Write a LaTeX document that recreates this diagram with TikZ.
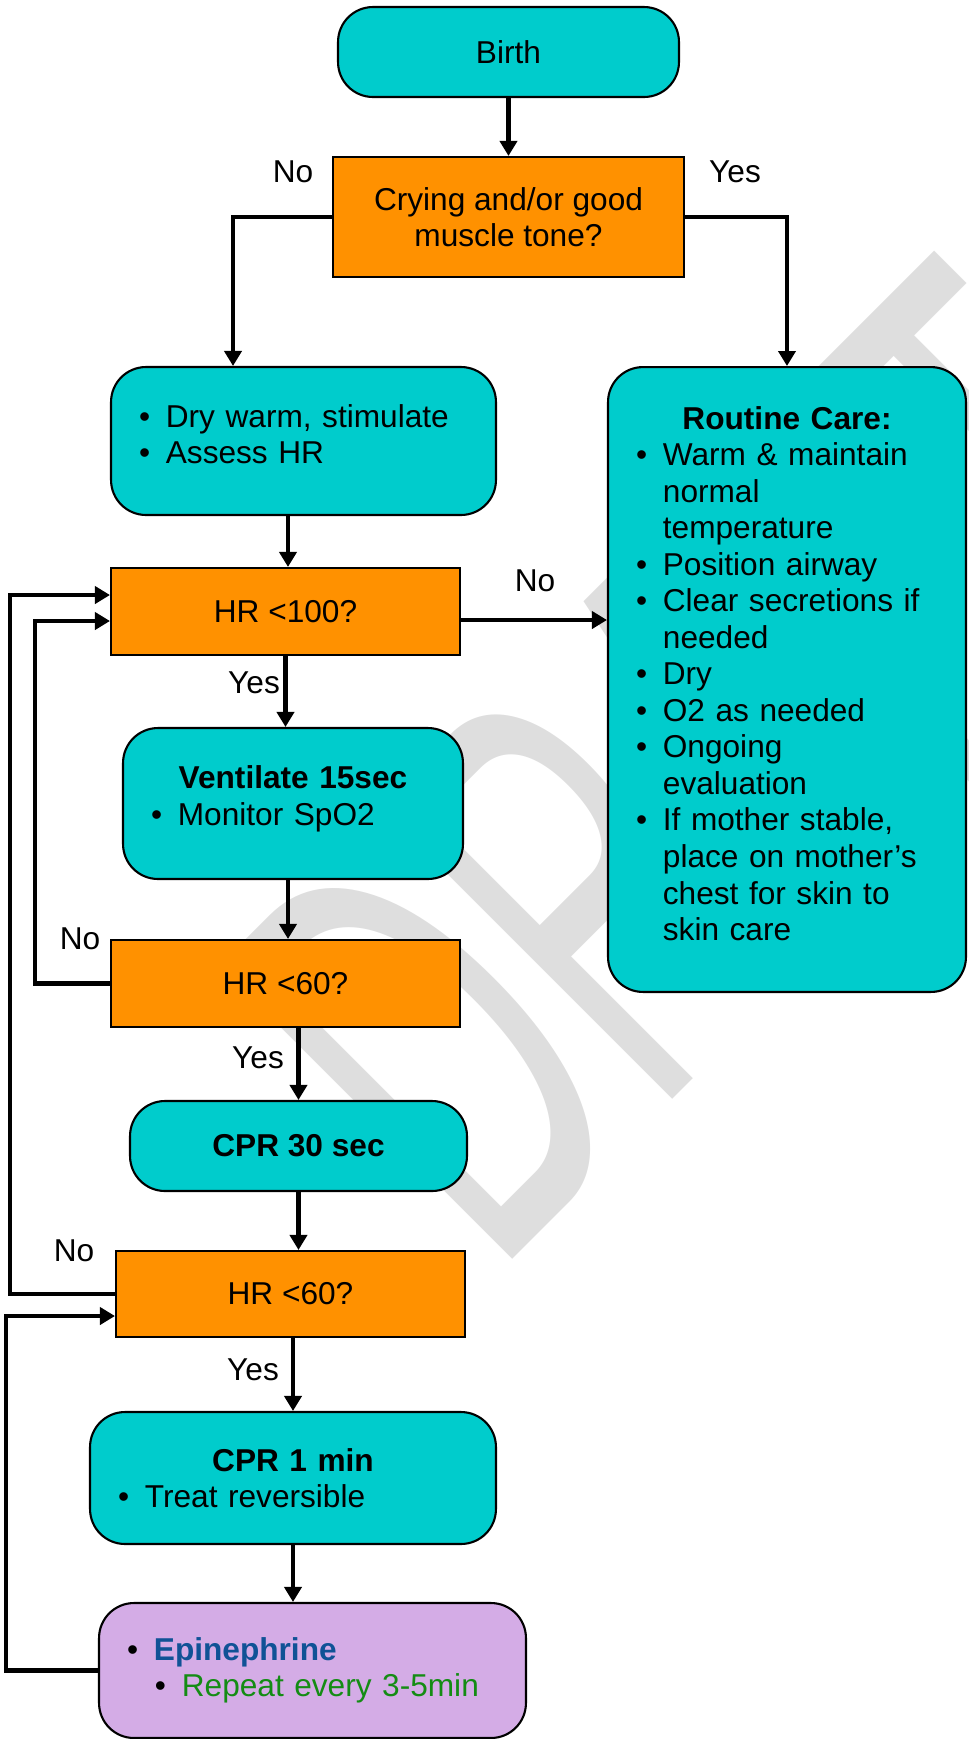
\documentclass[tikz,border=0pt]{standalone}
\usepackage{fontspec}
\setmainfont{Liberation Sans}
\usetikzlibrary{arrows.meta}
\definecolor{tealbox}{RGB}{0,204,204}
\definecolor{orangebox}{RGB}{255,145,0}
\definecolor{lilacbox}{RGB}{212,172,230}
\definecolor{epiblue}{RGB}{16,82,150}
\definecolor{epigreen}{RGB}{20,140,20}
\definecolor{wmgray}{RGB}{222,222,222}
\newcommand{\fsz}{\fontsize{18}{20.8}\selectfont}
\newcommand{\blt}{\makebox[15.3pt][l]{\textbullet}}
\newcommand{\ind}{\hspace*{15.3pt}}

\begin{document}
\begin{tikzpicture}[x=0.02cm, y=-0.02cm,
  actionbox/.style={draw, line width=1.2pt, fill=tealbox, rounded corners=0.7cm, font=\fsz, inner xsep=0.56cm},
  checkbox/.style={draw, line width=1.2pt, fill=orangebox, font=\fsz, align=center, minimum width=6.98cm, minimum height=1.74cm},
  flowline/.style={line width=2.6pt, -{Triangle[length=0.3cm,width=0.34cm]}},
  answer/.style={font=\fsz, inner sep=0pt}]
  \useasboundingbox (0,0) rectangle (968,1739);
  % marca d'agua
  \node[anchor=base west, inner sep=0pt, rotate=45, xscale=0.52, text=wmgray,
        font=\fontsize{343}{343}\selectfont] (draft) at (494,1278) {DRAFT};
  % caixas
  \node[actionbox, minimum width=6.82cm, minimum height=1.8cm] (birth) at (508.5,52) {Birth};
  \node[checkbox, minimum width=7.02cm, minimum height=2.4cm] (cry) at (508.5,217) {Crying and/or good\\muscle tone?};
  \node[actionbox, minimum width=7.7cm, minimum height=2.96cm, text width=6.58cm, align=left] (dry) at (303.5,441)
    {\blt Dry warm, stimulate\\\blt Assess HR\rule[-8pt]{0pt}{8pt}};
  \node[actionbox, minimum width=7.16cm, minimum height=12.5cm, text width=6.04cm, align=left] (routine) at (787,679.5)
    {\hfill\textbf{Routine Care:}\hfill\null\\
     \blt Warm \& maintain\\\ind normal\\\ind temperature\\
     \blt Position airway\\
     \blt Clear secretions if\\\ind needed\\
     \blt Dry\\
     \blt O2 as needed\\
     \blt Ongoing\\\ind evaluation\\
     \blt If mother stable,\\\ind place on mother’s\\\ind chest for skin to\\\ind skin care\rule[-7pt]{0pt}{7pt}};
  \node[checkbox] (hr100) at (285.5,611.5) {HR <100?};
  \node[actionbox, minimum width=6.8cm, minimum height=3.02cm, text width=5.68cm, align=left] (vent) at (293,803.5)
    {\hfill\textbf{Ventilate 15sec}\hfill\null\\\blt Monitor SpO2\rule[-9pt]{0pt}{9pt}};
  \node[checkbox] (hr60a) at (285.5,983.5) {HR <60?};
  \node[actionbox, minimum width=6.74cm, minimum height=1.8cm] (cpr30) at (298.5,1146) {\textbf{CPR 30 sec}};
  \node[checkbox, minimum height=1.72cm] (hr60b) at (290.5,1294) {HR <60?};
  \node[actionbox, minimum width=8.12cm, minimum height=2.64cm, text width=7cm, align=left] (cpr1) at (293,1478)
    {\hfill\textbf{CPR 1 min}\hfill\null\\\blt Treat reversible};
  \node[actionbox, fill=lilacbox, minimum width=8.54cm, minimum height=2.7cm, text width=7.42cm, align=left] (epi) at (312.5,1670.5)
    {\blt\textcolor{epiblue}{\bfseries Epinephrine}\\\hspace*{15.9pt}\blt\textcolor{epigreen}{Repeat every 3-5min}};
  % respostas
  \node[answer] (no1) at (293,172) {No};
  \node[answer] (yes1) at (735,172) {Yes};
  \node[answer] (no2) at (535,581) {No};
  \node[answer] (yes2) at (254,683) {Yes};
  \node[answer] (no3) at (80,939) {No};
  \node[answer] (yes3) at (258,1058) {Yes};
  \node[answer] (no4) at (74,1251) {No};
  \node[answer] (yes4) at (253,1370) {Yes};
  % setas
  \draw[flowline] (birth) -- (cry);
  \draw[flowline] (cry.west) -| ([xshift=-1.41cm]dry.north);
  \draw[flowline] (cry.east) -| (routine.north);
  \draw[flowline] ([xshift=-0.31cm]dry.south) -- ([xshift=-0.31cm]dry.south |- hr100.north);
  \draw[flowline] ([yshift=-0.17cm]hr100.east) -- ([yshift=-0.17cm]hr100.east -| routine.west);
  \draw[flowline] (hr100.south) -- (hr100.south |- vent.north);
  \draw[flowline] ([xshift=-0.1cm]vent.south) -- ([xshift=-0.1cm]vent.south |- hr60a.north);
  \draw[flowline] (cpr30.north |- hr60a.south) -- (cpr30.north);
  \draw[flowline] (cpr30.south) -- (cpr30.south |- hr60b.north);
  \draw[flowline] (cpr1.north |- hr60b.south) -- (cpr1.north);
  \draw[flowline] (cpr1.south) -- (cpr1.south |- epi.north);
  % lacos
  \draw[flowline] (hr60a.west) -- ++(-75,0) |- ([yshift=-0.19cm]hr100.west);
  \draw[flowline] (hr60b.west) -- ++(-105,0) |- ([yshift=0.33cm]hr100.west);
  \draw[flowline] (epi.west) -- ++(-92,0) |- ([yshift=-0.44cm]hr60b.west);
\end{tikzpicture}
\end{document}
